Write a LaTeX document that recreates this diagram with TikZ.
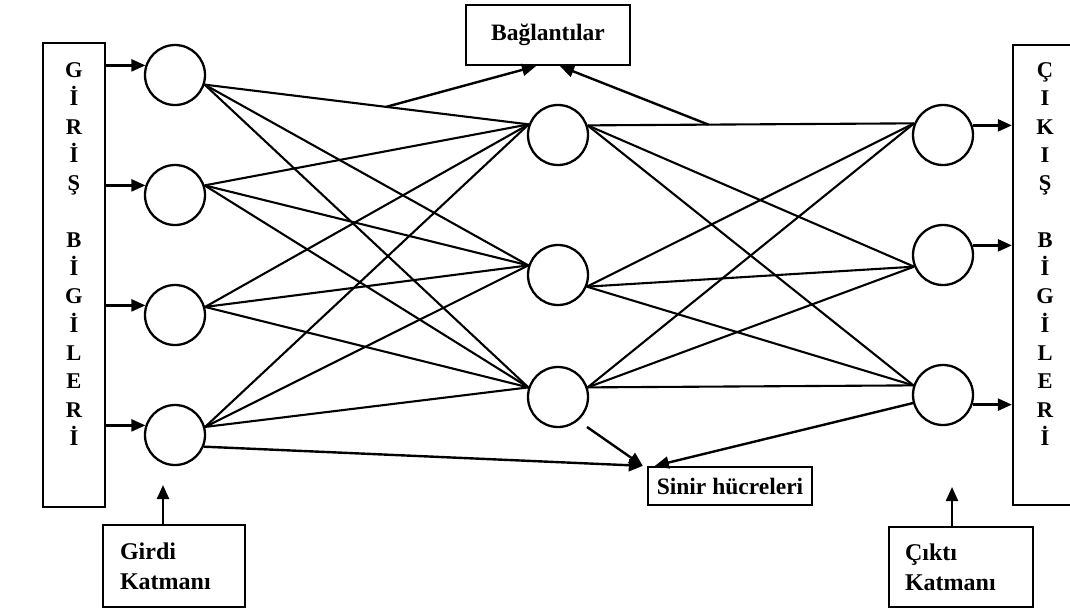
\documentclass[tikz,border=0pt]{standalone}
\usepackage{fontspec}
\setmainfont{Liberation Serif}
\usetikzlibrary{arrows.meta,calc}
\begin{document}
\begin{tikzpicture}[x=1pt,y=-1pt,
  neuron/.style={draw,circle,line width=2.3pt,minimum size=60pt,inner sep=0pt},
  link/.style={line width=2.1pt},
  arr/.style={line width=2.4pt,-{Triangle[length=14pt,width=12pt]}},
  box/.style={draw,line width=2.3pt,inner sep=0pt},
  lbl/.style={font=\fontsize{23.5}{26}\selectfont\bfseries},
  lbltwo/.style={font=\fontsize{24}{30}\selectfont\bfseries,align=left},
  vert/.style={font=\fontsize{22.5}{28.3}\selectfont\bfseries,align=center,inner sep=0pt}
]
\useasboundingbox (0,0) rectangle (1070,611);
\clip (0,0) rectangle (1070,611);

% side boxes
\node[box,minimum width=62pt,minimum height=464pt] (inbox) at (74,275) {};
\node[vert] (intext) at (74,254) {G\\İ\\R\\İ\\Ş\\[28.3pt]B\\İ\\G\\İ\\L\\E\\R\\İ};
\node[box,minimum width=70pt,minimum height=460pt] (outbox) at (1048,275) {};
\node[vert] (outtext) at (1045,254) {Ç\\I\\K\\I\\Ş\\[28.3pt]B\\İ\\G\\İ\\L\\E\\R\\İ};

% neurons
\node[neuron] (i1) at (175,75) {};
\node[neuron] (i2) at (175,195) {};
\node[neuron] (i3) at (175,315) {};
\node[neuron] (i4) at (175,435) {};
\node[neuron] (h1) at (558,135) {};
\node[neuron] (h2) at (558,275) {};
\node[neuron] (h3) at (558,397) {};
\node[neuron] (o1) at (943,135) {};
\node[neuron] (o2) at (943,255) {};
\node[neuron] (o3) at (943,395) {};

% input arrows
\foreach \n in {i1,i2,i3,i4}
  \draw[arr] (inbox.east |- \n.162) -- (\n.162);

% connections
\foreach \i/\a in {i1/-18,i2/18,i3/15,i4/15}
  \foreach \h/\b in {h1/160,h2/162,h3/162}
    \draw[link] (\i.\a) -- (\h.\b);
\foreach \h/\a in {h1/18,h2/-22,h3/18}
  \foreach \o/\b in {o1/158,o2/-158,o3/162}
    \draw[link] (\h.\a) -- (\o.\b);

% output arrows
\draw[arr] (o1.18) -- (outbox.west |- o1.18);
\draw[arr] (o2.18) -- (outbox.west |- o2.18);
\draw[arr] (o3.-18) -- (outbox.west |- o3.-18);

% Baglantilar
\node[box,minimum width=164pt,minimum height=60pt,lbl] (bag) at (548,35) {Bağlantılar};
\coordinate (bl) at ($(i1.-18)!0.56!(h1.160)$);
\coordinate (br) at ($(h1.18)!0.37!(o1.158)$);
\draw[arr] (bl) -- ([xshift=-12pt]bag.south);
\draw[arr] (br) -- ([xshift=12pt]bag.south);

% Sinir hucreleri
\node[box,minimum width=164pt,minimum height=38pt,lbl] (sinir) at (730,486) {Sinir hücreleri};
\coordinate (sA) at (587,427);
\draw[arr] (sA) -- ([xshift=-4pt]sinir.north west);
\draw[arr] (i4.-22) -- ([xshift=-4pt]sinir.north west);
\draw[arr] (o3.195) -- ([xshift=8pt]sinir.north west);

% layer labels
\node[box,minimum width=142pt,minimum height=82pt,lbltwo,text width=108pt] (girdi) at (174,566) {Girdi\\Katmanı};
\coordinate (gA) at (163,485);
\draw[arr] ([xshift=-11pt]girdi.north) -- (gA);
\node[box,minimum width=144pt,minimum height=80pt,lbltwo,text width=112pt] (cikti) at (961,567) {Çıktı\\Katmanı};
\coordinate (cA) at (952,487);
\draw[arr] ([xshift=-9pt]cikti.north) -- (cA);
\end{tikzpicture}
\end{document}
